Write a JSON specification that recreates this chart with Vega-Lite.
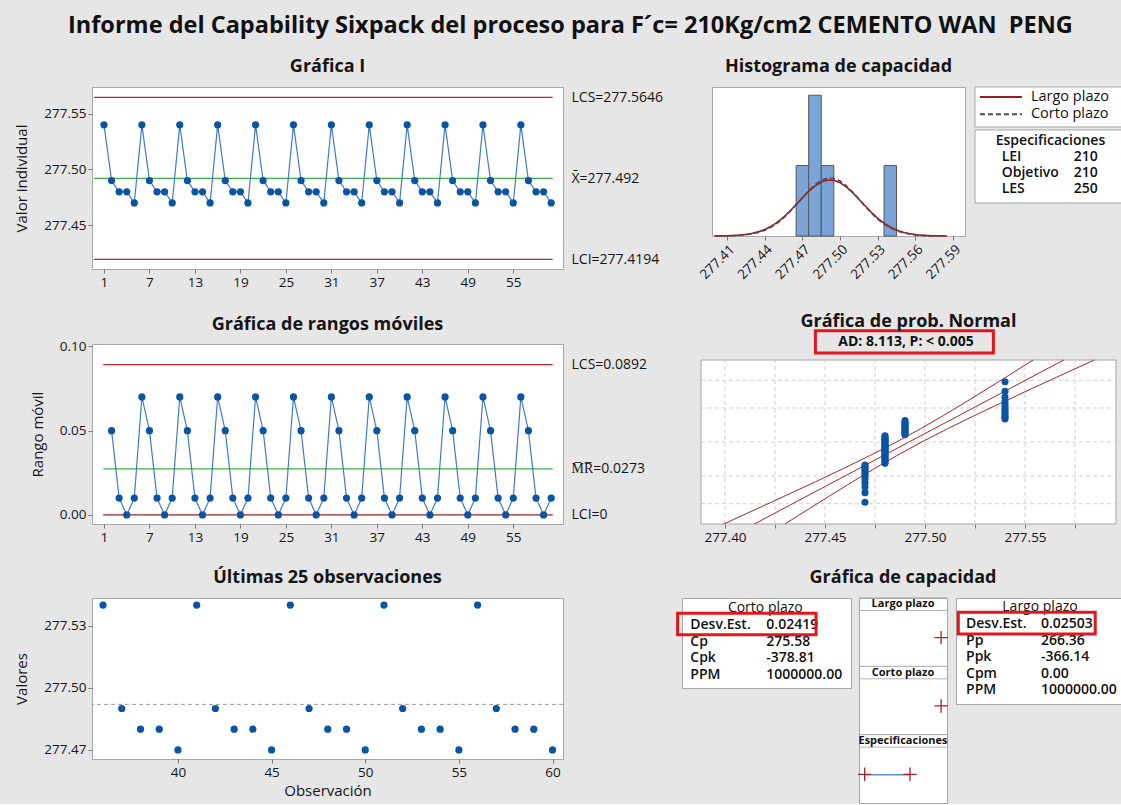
{
"$schema":"https://vega.github.io/schema/vega-lite/v6.json",
"background":"#e6e6e6",
"padding":{"left":14,"top":14,"right":0,"bottom":0},
"title":{"text":"Informe del Capability Sixpack del proceso para F´c= 210Kg/cm2 CEMENTO WAN\u00a0 PENG","fontSize":23.5,"fontWeight":"bold","offset":20,"anchor":"middle","color":"#111111"},
"columns":1,
"align":"none",
"bounds":"flush",
"spacing":0,
"resolve":{"scale":{"color":"independent","strokeDash":"independent"},"legend":{"color":"independent","strokeDash":"independent"}},
"concat":[
{"hconcat":[
{"width":471,"height":182,
 "title":{"text":"Gráfica I","offset":11},
 "view":{"fill":"white","stroke":"#a6a6a6"},
 "layer":[
  {"data":{"name":"ilim"},"mark":{"type":"rule","strokeWidth":1.3},
   "encoding":{
    "x":{"datum":-0.3,"type":"quantitative","scale":{"domain":[-0.58,61.56],"nice":false,"zero":false},"axis":{"values":[1,7,13,19,25,31,37,43,49,55],"format":"d","title":null}},
    "x2":{"datum":60.2},
    "y":{"field":"valor","type":"quantitative","scale":{"domain":[277.4108,277.5739],"nice":false,"zero":false},"axis":{"orient":"right","values":[277.4194,277.492,277.5646],"labelExpr":"datum.value > 277.55 ? 'LCS=277.5646' : (datum.value > 277.45 ? 'X\u0304=277.492' : 'LCI=277.4194')","title":null,"ticks":false,"labelPadding":8,"labelFontSize":14}},
    "color":{"field":"tipo","type":"nominal","scale":{"domain":["LCS","Media","LCI"],"range":["#b8292f","#3fae49","#b8292f"]},"legend":null}}},
  {"data":{"name":"indiv"},"mark":{"type":"line","color":"#3f7cc7","strokeWidth":1.2},
   "encoding":{"x":{"field":"obs","type":"quantitative"},"y":{"field":"valor","type":"quantitative","axis":{"values":[277.45,277.5,277.55],"format":".2f","title":"Valor individual","titlePadding":14}}}},
  {"data":{"name":"indiv"},"mark":{"type":"circle","color":"#0b53a3","size":52,"opacity":1},
   "encoding":{"x":{"field":"obs","type":"quantitative"},"y":{"field":"valor","type":"quantitative","axis":null}}}
 ],
 "resolve":{"axis":{"y":"independent"}}
},
{"width":149,"height":1,"data":{"values":[]},"mark":"point"},
{"width":253,"height":149,
 "title":{"text":"Histograma de capacidad","offset":11},
 "view":{"fill":"white","stroke":"#a6a6a6"},
 "layer":[
  {"data":{"name":"hist"},"mark":{"type":"rect","fill":"#7ba5d9","stroke":"#555555","strokeWidth":1},
   "encoding":{
    "x":{"field":"desde","type":"quantitative","scale":{"domain":[277.398,277.5995],"nice":false,"zero":false},"axis":{"values":[277.41,277.44,277.47,277.5,277.53,277.56,277.59],"format":".2f","labelAngle":-45,"title":null}},
    "x2":{"field":"hasta"},
    "y":{"field":"frecuencia","type":"quantitative","scale":{"domain":[0,25.4],"nice":false,"zero":false},"axis":null},
    "y2":{"datum":0}}},
  {"data":{"name":"curvas"},"mark":{"type":"line","strokeWidth":1.6},
   "encoding":{
    "x":{"field":"valor","type":"quantitative"},
    "y":{"field":"densidad","type":"quantitative"},
    "color":{"field":"curva","type":"nominal","scale":{"domain":["Largo plazo","Corto plazo"],"range":["#9e1b1b","#4d4d4d"]},"legend":null},
    "strokeDash":{"field":"curva","type":"nominal","scale":{"domain":["Largo plazo","Corto plazo"],"range":[[1,0],[5,3]]},"legend":null}}}
 ]
},
{"width":10,"height":1,"data":{"values":[]},"mark":"point"},
{"width":150,"height":116,
 "layer":[
  {"data":{"values":[{"zona":"leyenda"}]},"mark":{"type":"rect","fill":"white","stroke":"#a6a6a6","strokeWidth":1},
   "encoding":{"x":{"datum":0,"type":"quantitative","scale":{"domain":[0,100],"nice":false,"zero":false},"axis":null},"x2":{"datum":100},
    "y":{"datum":-3.334,"type":"quantitative","scale":{"domain":[-3.334,3.848],"reverse":true,"nice":false,"zero":false},"axis":null},"y2":{"datum":-0.857}}},
  {"data":{"values":[{"zona":"caja"}]},"mark":{"type":"rect","fill":"white","stroke":"#a6a6a6","strokeWidth":1},
   "encoding":{"x":{"datum":0},"x2":{"datum":100},"y":{"datum":-0.672},"y2":{"datum":3.848}}},
  {"data":{"name":"leyenda"},"mark":{"type":"rule","strokeWidth":2},
   "encoding":{"x":{"datum":3.3},"x2":{"datum":31.3},"y":{"field":"fila","type":"quantitative"},
    "color":{"field":"curva","type":"nominal","scale":{"domain":["Largo plazo","Corto plazo"],"range":["#9e1b1b","#4d4d4d"]},"legend":null},
    "strokeDash":{"field":"curva","type":"nominal","scale":{"domain":["Largo plazo","Corto plazo"],"range":[[1,0],[5,3]]},"legend":null}}},
  {"data":{"name":"leyenda"},"mark":{"type":"text","align":"left","baseline":"middle","fontSize":14.5,"color":"#111111"},
   "encoding":{"x":{"datum":37.3},"y":{"field":"fila","type":"quantitative"},"text":{"field":"curva"}}},
  {"data":{"name":"especificaciones"},"mark":{"type":"text","align":"left","baseline":"middle","fontSize":14,"fontWeight":600,"color":"#111111"},
   "encoding":{"x":{"datum":17.8},"y":{"field":"fila","type":"quantitative"},"text":{"field":"limite"}}},
  {"data":{"name":"especificaciones"},"mark":{"type":"text","align":"right","baseline":"middle","fontSize":14,"fontWeight":600,"color":"#111111"},
   "encoding":{"x":{"datum":81.8},"y":{"field":"fila","type":"quantitative"},"text":{"field":"valor"}}},
  {"data":{"values":[{"titulo":"Especificaciones"}]},"mark":{"type":"text","align":"center","baseline":"middle","fontSize":14,"fontWeight":600,"color":"#111111"},
   "encoding":{"x":{"datum":50.3},"y":{"datum":0},"text":{"field":"titulo"}}}
 ],
 "resolve":{"scale":{"color":"independent","strokeDash":"independent"}}
}
],"spacing":0,"bounds":"flush",
"resolve":{"scale":{"color":"independent","strokeDash":"independent"},"legend":{"color":"independent","strokeDash":"independent"}}},

{"width":1,"height":257,"data":{"values":[]},"mark":"point"},

{"hconcat":[
{"width":471,"height":180,
 "title":{"text":"Gráfica de rangos móviles","offset":5},
 "view":{"fill":"white","stroke":"#a6a6a6"},
 "layer":[
  {"data":{"name":"mrlim"},"mark":{"type":"rule","strokeWidth":1.3},
   "encoding":{
    "x":{"datum":0.9,"type":"quantitative","scale":{"domain":[-0.58,61.56],"nice":false,"zero":false},"axis":{"values":[1,7,13,19,25,31,37,43,49,55],"format":"d","title":null}},
    "x2":{"datum":60.2},
    "y":{"field":"valor","type":"quantitative","scale":{"domain":[-0.0054,0.1014],"nice":false,"zero":false},"axis":{"orient":"right","values":[0,0.0273,0.0892],"labelExpr":"datum.value > 0.05 ? 'LCS=0.0892' : (datum.value > 0.01 ? 'M\u0305R\u0305=0.0273' : 'LCI=0')","title":null,"ticks":false,"labelPadding":8,"labelFontSize":14}},
    "color":{"field":"tipo","type":"nominal","scale":{"domain":["LCS","Media","LCI"],"range":["#b8292f","#3fae49","#9e1f24"]},"legend":null}}},
  {"data":{"name":"mr"},"mark":{"type":"line","color":"#3f7cc7","strokeWidth":1.2},
   "encoding":{"x":{"field":"obs","type":"quantitative"},"y":{"field":"rango","type":"quantitative","axis":{"values":[0,0.05,0.1],"format":".2f","title":"Rango móvil","titlePadding":14}}}},
  {"data":{"name":"mr"},"mark":{"type":"circle","color":"#0b53a3","size":52,"opacity":1},
   "encoding":{"x":{"field":"obs","type":"quantitative"},"y":{"field":"rango","type":"quantitative","axis":null}}}
 ],
 "resolve":{"axis":{"y":"independent"}}
},
{"width":138,"height":1,"data":{"values":[]},"mark":"point"},
{"width":415,"height":180,
 "title":{"text":"Gráfica de prob. Normal","offset":-2},
 "layer":[
  {"data":{"values":[{"zona":"grafica"}]},"mark":{"type":"rect","fill":"white","stroke":"#a6a6a6","strokeWidth":1},
   "encoding":{
    "x":{"datum":277.388,"type":"quantitative","scale":{"domain":[277.388,277.5955],"nice":false,"zero":false},"axis":{"values":[277.4,277.425,277.45,277.475,277.5,277.525,277.55,277.575],"labelExpr":"abs(datum.value*20 - round(datum.value*20)) < 0.01 ? format(datum.value, '.2f') : ''","title":null}},
    "x2":{"datum":277.5955},
    "y":{"datum":-3.09,"type":"quantitative","scale":{"domain":[-3.09,3.693],"nice":false,"zero":false},"axis":null},
    "y2":{"datum":3.09}}},
  {"data":{"name":"pn_grid_x"},"mark":{"type":"rule","color":"#d0d0d0","strokeDash":[4,3],"strokeWidth":1},
   "encoding":{"x":{"field":"x","type":"quantitative"},"y":{"datum":-3.09},"y2":{"datum":3.09}}},
  {"data":{"name":"pn_grid_z"},"mark":{"type":"rule","color":"#d0d0d0","strokeDash":[4,3],"strokeWidth":1},
   "encoding":{"y":{"field":"z","type":"quantitative"},"x":{"datum":277.388},"x2":{"datum":277.5955}}},
  {"data":{"name":"pn_lineas"},"mark":{"type":"line","color":"#a8262c","strokeWidth":1},
   "encoding":{
    "x":{"field":"x","type":"quantitative"},
    "y":{"field":"z","type":"quantitative"},
    "detail":{"field":"serie","type":"nominal"},
    "order":{"field":"z","type":"quantitative"}}},
  {"data":{"name":"pn"},"mark":{"type":"circle","color":"#0b53a3","size":50,"opacity":1},
   "encoding":{"x":{"field":"valor","type":"quantitative"},"y":{"field":"z","type":"quantitative"}}},
  {"data":{"values":[{"prueba":"AD: 8.113, P: < 0.005"}]},"mark":{"type":"rect","fillOpacity":0,"stroke":"#e4161d","strokeWidth":3},
   "encoding":{"x":{"datum":277.4452},"x2":{"datum":277.5342},"y":{"datum":3.356},"y2":{"datum":4.196}}},
  {"data":{"values":[{"prueba":"AD: 8.113, P: < 0.005"}]},"mark":{"type":"text","fontSize":14,"fontWeight":"bold","color":"#111111","baseline":"middle"},
   "encoding":{"x":{"datum":277.4905},"y":{"datum":3.768},"text":{"field":"prueba"}}}
 ]
}
],"spacing":0,"bounds":"flush",
"resolve":{"scale":{"color":"independent","strokeDash":"independent"},"legend":{"color":"independent","strokeDash":"independent"}}},

{"width":1,"height":254,"data":{"values":[]},"mark":"point"},

{"hconcat":[
{"width":471,"height":161,
 "title":{"text":"Últimas 25 observaciones","offset":11},
 "view":{"fill":"white","stroke":"#a6a6a6"},
 "layer":[
  {"data":{"name":"indiv"},"transform":[{"filter":"datum.obs >= 36"}],"mark":{"type":"circle","color":"#0b53a3","size":52,"opacity":1},
   "encoding":{
    "x":{"field":"obs","type":"quantitative","scale":{"domain":[35.41,60.56],"nice":false,"zero":false},"axis":{"values":[40,45,50,55,60],"format":"d","title":"Observación","titlePadding":5}},
    "y":{"field":"valor","type":"quantitative","scale":{"domain":[277.4656,277.5434],"nice":false,"zero":false},"axis":{"values":[277.47,277.5,277.53],"format":".2f","title":"Valores","titlePadding":14}}}},
  {"data":{"values":[{"media":277.492}]},"mark":{"type":"rule","color":"#9a9a9a","strokeDash":[4,3],"strokeWidth":1},
   "encoding":{"y":{"field":"media","type":"quantitative"}}}
 ]
},
{"width":119,"height":1,"data":{"values":[]},"mark":"point"},
{"width":169,"height":90,
 "view":{"fill":"white","stroke":"#a6a6a6"},
 "layer":[
  {"data":{"name":"corto"},"mark":{"type":"text","align":"left","baseline":"middle","fontSize":14,"fontWeight":600,"color":"#111111"},
   "encoding":{"x":{"datum":4.9,"type":"quantitative","scale":{"domain":[0,100],"nice":false,"zero":false},"axis":null},
    "y":{"field":"fila","type":"quantitative","scale":{"domain":[-0.62,4.78],"reverse":true,"nice":false,"zero":false},"axis":null},
    "text":{"field":"estadistico"}}},
  {"data":{"name":"corto"},"mark":{"type":"text","align":"left","baseline":"middle","fontSize":14,"fontWeight":600,"color":"#111111"},
   "encoding":{"x":{"datum":49.9},"y":{"field":"fila","type":"quantitative"},"text":{"field":"valor"}}},
  {"data":{"values":[{"titulo":"Corto plazo"}]},"mark":{"type":"text","align":"center","baseline":"middle","fontSize":14,"color":"#111111"},
   "encoding":{"x":{"datum":49.3},"y":{"datum":0},"text":{"field":"titulo"}}},
  {"data":{"values":[{"marca":"Desv.Est."}]},"mark":{"type":"rect","fillOpacity":0,"stroke":"#e4161d","strokeWidth":3},
   "encoding":{"x":{"datum":-2.6},"x2":{"datum":79.3},"y":{"datum":0.3},"y2":{"datum":1.58}}}
 ]
},
{"width":8,"height":1,"data":{"values":[]},"mark":"point"},
{"width":88,"height":205,
 "title":{"text":"Gráfica de capacidad","offset":11},
 "view":{"fill":"white","stroke":"#a6a6a6"},
 "layer":[
  {"data":{"name":"paneles"},"mark":{"type":"rule","color":"#b3b3b3","strokeWidth":1},
   "encoding":{"y":{"field":"panel","type":"nominal","bandPosition":0.183,"scale":{"type":"band","domain":["Largo plazo","Corto plazo","Especificaciones"],"paddingInner":0,"paddingOuter":0},"axis":null}}},
  {"data":{"name":"paneles"},"mark":{"type":"rule","color":"#a6a6a6","strokeWidth":1},
   "encoding":{"y":{"field":"panel","type":"nominal","bandPosition":0}}},
  {"data":{"name":"paneles"},"mark":{"type":"text","fontSize":11,"fontWeight":"bold","color":"#111111","baseline":"middle"},
   "encoding":{"y":{"field":"panel","type":"nominal","bandPosition":0.092},"text":{"field":"panel"}}},
  {"data":{"name":"spec_linea"},"mark":{"type":"rule","color":"#5a8fd2","strokeWidth":1.5},
   "encoding":{"x":{"field":"desde","type":"quantitative","scale":{"domain":[205,282.7],"nice":false,"zero":false},"axis":null},"x2":{"field":"hasta"},"y":{"field":"panel","type":"nominal","bandPosition":0.587}}},
  {"data":{"name":"cruces"},"mark":{"type":"point","shape":"M-1,0H1M0,-1V1","filled":false,"stroke":"#a5232a","strokeWidth":1.3,"size":180,"opacity":1},
   "encoding":{"x":{"field":"valor","type":"quantitative"},"y":{"field":"panel","type":"nominal","bandPosition":0.58}}}
 ]
},
{"width":9,"height":1,"data":{"values":[]},"mark":"point"},
{"width":170,"height":106,
 "view":{"fill":"white","stroke":"#a6a6a6"},
 "layer":[
  {"data":{"name":"largo"},"mark":{"type":"text","align":"left","baseline":"middle","fontSize":14,"fontWeight":600,"color":"#111111"},
   "encoding":{"x":{"datum":5.9,"type":"quantitative","scale":{"domain":[0,100],"nice":false,"zero":false},"axis":null},
    "y":{"field":"fila","type":"quantitative","scale":{"domain":[-0.566,5.82],"reverse":true,"nice":false,"zero":false},"axis":null},
    "text":{"field":"estadistico"}}},
  {"data":{"name":"largo"},"mark":{"type":"text","align":"left","baseline":"middle","fontSize":14,"fontWeight":600,"color":"#111111"},
   "encoding":{"x":{"datum":50},"y":{"field":"fila","type":"quantitative"},"text":{"field":"valor"}}},
  {"data":{"values":[{"titulo":"Largo plazo"}]},"mark":{"type":"text","align":"center","baseline":"middle","fontSize":14,"color":"#111111"},
   "encoding":{"x":{"datum":49.4},"y":{"datum":0},"text":{"field":"titulo"}}},
  {"data":{"values":[{"marca":"Desv.Est."}]},"mark":{"type":"rect","fillOpacity":0,"stroke":"#e4161d","strokeWidth":3},
   "encoding":{"x":{"datum":1.35},"x2":{"datum":81.9},"y":{"datum":0.3},"y2":{"datum":1.6}}}
 ]
}
],"spacing":0,"bounds":"flush",
"resolve":{"scale":{"color":"independent","strokeDash":"independent"},"legend":{"color":"independent","strokeDash":"independent"}}}
],
"datasets":{
"indiv":[{"obs":1,"valor":277.54},{"obs":2,"valor":277.49},{"obs":3,"valor":277.48},{"obs":4,"valor":277.48},{"obs":5,"valor":277.47},
{"obs":6,"valor":277.54},{"obs":7,"valor":277.49},{"obs":8,"valor":277.48},{"obs":9,"valor":277.48},{"obs":10,"valor":277.47},
{"obs":11,"valor":277.54},{"obs":12,"valor":277.49},{"obs":13,"valor":277.48},{"obs":14,"valor":277.48},{"obs":15,"valor":277.47},
{"obs":16,"valor":277.54},{"obs":17,"valor":277.49},{"obs":18,"valor":277.48},{"obs":19,"valor":277.48},{"obs":20,"valor":277.47},
{"obs":21,"valor":277.54},{"obs":22,"valor":277.49},{"obs":23,"valor":277.48},{"obs":24,"valor":277.48},{"obs":25,"valor":277.47},
{"obs":26,"valor":277.54},{"obs":27,"valor":277.49},{"obs":28,"valor":277.48},{"obs":29,"valor":277.48},{"obs":30,"valor":277.47},
{"obs":31,"valor":277.54},{"obs":32,"valor":277.49},{"obs":33,"valor":277.48},{"obs":34,"valor":277.48},{"obs":35,"valor":277.47},
{"obs":36,"valor":277.54},{"obs":37,"valor":277.49},{"obs":38,"valor":277.48},{"obs":39,"valor":277.48},{"obs":40,"valor":277.47},
{"obs":41,"valor":277.54},{"obs":42,"valor":277.49},{"obs":43,"valor":277.48},{"obs":44,"valor":277.48},{"obs":45,"valor":277.47},
{"obs":46,"valor":277.54},{"obs":47,"valor":277.49},{"obs":48,"valor":277.48},{"obs":49,"valor":277.48},{"obs":50,"valor":277.47},
{"obs":51,"valor":277.54},{"obs":52,"valor":277.49},{"obs":53,"valor":277.48},{"obs":54,"valor":277.48},{"obs":55,"valor":277.47},
{"obs":56,"valor":277.54},{"obs":57,"valor":277.49},{"obs":58,"valor":277.48},{"obs":59,"valor":277.48},{"obs":60,"valor":277.47}],
"mr":[{"obs":2,"rango":0.05},{"obs":3,"rango":0.01},{"obs":4,"rango":0},{"obs":5,"rango":0.01},
{"obs":6,"rango":0.07},{"obs":7,"rango":0.05},{"obs":8,"rango":0.01},{"obs":9,"rango":0},{"obs":10,"rango":0.01},
{"obs":11,"rango":0.07},{"obs":12,"rango":0.05},{"obs":13,"rango":0.01},{"obs":14,"rango":0},{"obs":15,"rango":0.01},
{"obs":16,"rango":0.07},{"obs":17,"rango":0.05},{"obs":18,"rango":0.01},{"obs":19,"rango":0},{"obs":20,"rango":0.01},
{"obs":21,"rango":0.07},{"obs":22,"rango":0.05},{"obs":23,"rango":0.01},{"obs":24,"rango":0},{"obs":25,"rango":0.01},
{"obs":26,"rango":0.07},{"obs":27,"rango":0.05},{"obs":28,"rango":0.01},{"obs":29,"rango":0},{"obs":30,"rango":0.01},
{"obs":31,"rango":0.07},{"obs":32,"rango":0.05},{"obs":33,"rango":0.01},{"obs":34,"rango":0},{"obs":35,"rango":0.01},
{"obs":36,"rango":0.07},{"obs":37,"rango":0.05},{"obs":38,"rango":0.01},{"obs":39,"rango":0},{"obs":40,"rango":0.01},
{"obs":41,"rango":0.07},{"obs":42,"rango":0.05},{"obs":43,"rango":0.01},{"obs":44,"rango":0},{"obs":45,"rango":0.01},
{"obs":46,"rango":0.07},{"obs":47,"rango":0.05},{"obs":48,"rango":0.01},{"obs":49,"rango":0},{"obs":50,"rango":0.01},
{"obs":51,"rango":0.07},{"obs":52,"rango":0.05},{"obs":53,"rango":0.01},{"obs":54,"rango":0},{"obs":55,"rango":0.01},
{"obs":56,"rango":0.07},{"obs":57,"rango":0.05},{"obs":58,"rango":0.01},{"obs":59,"rango":0},{"obs":60,"rango":0.01}],
"ilim":[{"tipo":"LCS","valor":277.5646},{"tipo":"Media","valor":277.492},{"tipo":"LCI","valor":277.4194}],
"mrlim":[{"tipo":"LCS","valor":0.0892},{"tipo":"Media","valor":0.0273},{"tipo":"LCI","valor":0}],
"hist":[{"desde":277.465,"hasta":277.475,"frecuencia":12},{"desde":277.475,"hasta":277.485,"frecuencia":24},{"desde":277.485,"hasta":277.495,"frecuencia":12},{"desde":277.535,"hasta":277.545,"frecuencia":12}],
"curvas":[
{"curva":"Largo plazo","valor":277.400,"densidad":0.0111},{"curva":"Largo plazo","valor":277.405,"densidad":0.0228},{"curva":"Largo plazo","valor":277.410,"densidad":0.0447},{"curva":"Largo plazo","valor":277.415,"densidad":0.0842},{"curva":"Largo plazo","valor":277.420,"densidad":0.1527},{"curva":"Largo plazo","valor":277.425,"densidad":0.2659},{"curva":"Largo plazo","valor":277.430,"densidad":0.4449},{"curva":"Largo plazo","valor":277.435,"densidad":0.7153},{"curva":"Largo plazo","valor":277.440,"densidad":1.1055},{"curva":"Largo plazo","valor":277.445,"densidad":1.640},{"curva":"Largo plazo","valor":277.450,"densidad":2.340},{"curva":"Largo plazo","valor":277.455,"densidad":3.207},{"curva":"Largo plazo","valor":277.460,"densidad":4.224},{"curva":"Largo plazo","valor":277.465,"densidad":5.345},{"curva":"Largo plazo","valor":277.470,"densidad":6.499},{"curva":"Largo plazo","valor":277.475,"densidad":7.594},{"curva":"Largo plazo","valor":277.480,"densidad":8.525},{"curva":"Largo plazo","valor":277.485,"densidad":9.196},{"curva":"Largo plazo","valor":277.490,"densidad":9.532},{"curva":"Largo plazo","valor":277.495,"densidad":9.495},{"curva":"Largo plazo","valor":277.500,"densidad":9.087},{"curva":"Largo plazo","valor":277.505,"densidad":8.356},{"curva":"Largo plazo","valor":277.510,"densidad":7.385},{"curva":"Largo plazo","valor":277.515,"densidad":6.270},{"curva":"Largo plazo","valor":277.520,"densidad":5.115},{"curva":"Largo plazo","valor":277.525,"densidad":4.010},{"curva":"Largo plazo","valor":277.530,"densidad":3.021},{"curva":"Largo plazo","valor":277.535,"densidad":2.186},{"curva":"Largo plazo","valor":277.540,"densidad":1.520},{"curva":"Largo plazo","valor":277.545,"densidad":1.017},{"curva":"Largo plazo","valor":277.550,"densidad":0.653},{"curva":"Largo plazo","valor":277.555,"densidad":0.403},{"curva":"Largo plazo","valor":277.560,"densidad":0.239},{"curva":"Largo plazo","valor":277.565,"densidad":0.136},{"curva":"Largo plazo","valor":277.570,"densidad":0.0745},{"curva":"Largo plazo","valor":277.575,"densidad":0.0392},{"curva":"Largo plazo","valor":277.580,"densidad":0.0198},{"curva":"Largo plazo","valor":277.585,"densidad":0.0096},
{"curva":"Corto plazo","valor":277.400,"densidad":0.0072},{"curva":"Corto plazo","valor":277.405,"densidad":0.0154},{"curva":"Corto plazo","valor":277.410,"densidad":0.0316},{"curva":"Corto plazo","valor":277.415,"densidad":0.0624},{"curva":"Corto plazo","valor":277.420,"densidad":0.1179},{"curva":"Corto plazo","valor":277.425,"densidad":0.2136},{"curva":"Corto plazo","valor":277.430,"densidad":0.3706},{"curva":"Corto plazo","valor":277.435,"densidad":0.6164},{"curva":"Corto plazo","valor":277.440,"densidad":0.9817},{"curva":"Corto plazo","valor":277.445,"densidad":1.498},{"curva":"Corto plazo","valor":277.450,"densidad":2.192},{"curva":"Corto plazo","valor":277.455,"densidad":3.071},{"curva":"Corto plazo","valor":277.460,"densidad":4.125},{"curva":"Corto plazo","valor":277.465,"densidad":5.308},{"curva":"Corto plazo","valor":277.470,"densidad":6.544},{"curva":"Corto plazo","valor":277.475,"densidad":7.730},{"curva":"Corto plazo","valor":277.480,"densidad":8.750},{"curva":"Corto plazo","valor":277.485,"densidad":9.489},{"curva":"Corto plazo","valor":277.490,"densidad":9.861},{"curva":"Corto plazo","valor":277.495,"densidad":9.819},{"curva":"Corto plazo","valor":277.500,"densidad":9.369},{"curva":"Corto plazo","valor":277.505,"densidad":8.564},{"curva":"Corto plazo","valor":277.510,"densidad":7.502},{"curva":"Corto plazo","valor":277.515,"densidad":6.297},{"curva":"Corto plazo","valor":277.520,"densidad":5.064},{"curva":"Corto plazo","valor":277.525,"densidad":3.903},{"curva":"Corto plazo","valor":277.530,"densidad":2.881},{"curva":"Corto plazo","valor":277.535,"densidad":2.038},{"curva":"Corto plazo","valor":277.540,"densidad":1.381},{"curva":"Corto plazo","valor":277.545,"densidad":0.898},{"curva":"Corto plazo","valor":277.550,"densidad":0.559},{"curva":"Corto plazo","valor":277.555,"densidad":0.333},{"curva":"Corto plazo","valor":277.560,"densidad":0.190},{"curva":"Corto plazo","valor":277.565,"densidad":0.104},{"curva":"Corto plazo","valor":277.570,"densidad":0.0547},{"curva":"Corto plazo","valor":277.575,"densidad":0.0275},{"curva":"Corto plazo","valor":277.580,"densidad":0.0132},{"curva":"Corto plazo","valor":277.585,"densidad":0.0061}],
"leyenda":[{"curva":"Largo plazo","fila":-2.715},{"curva":"Corto plazo","fila":-1.644}],
"pn":[{"valor":277.47,"z":-2.270},{"valor":277.47,"z":-1.909},{"valor":277.47,"z":-1.699},{"valor":277.47,"z":-1.544},{"valor":277.47,"z":-1.420},{"valor":277.47,"z":-1.314},{"valor":277.47,"z":-1.222},{"valor":277.47,"z":-1.139},{"valor":277.47,"z":-1.062},{"valor":277.47,"z":-0.992},{"valor":277.47,"z":-0.926},{"valor":277.47,"z":-0.865},
{"valor":277.48,"z":-0.805},{"valor":277.48,"z":-0.749},{"valor":277.48,"z":-0.695},{"valor":277.48,"z":-0.644},{"valor":277.48,"z":-0.593},{"valor":277.48,"z":-0.545},{"valor":277.48,"z":-0.497},{"valor":277.48,"z":-0.451},{"valor":277.48,"z":-0.405},{"valor":277.48,"z":-0.361},{"valor":277.48,"z":-0.317},{"valor":277.48,"z":-0.274},{"valor":277.48,"z":-0.231},{"valor":277.48,"z":-0.188},{"valor":277.48,"z":-0.146},{"valor":277.48,"z":-0.104},{"valor":277.48,"z":-0.062},{"valor":277.48,"z":-0.021},{"valor":277.48,"z":0.021},{"valor":277.48,"z":0.062},{"valor":277.48,"z":0.104},{"valor":277.48,"z":0.146},{"valor":277.48,"z":0.188},{"valor":277.48,"z":0.231},
{"valor":277.49,"z":0.274},{"valor":277.49,"z":0.317},{"valor":277.49,"z":0.361},{"valor":277.49,"z":0.405},{"valor":277.49,"z":0.451},{"valor":277.49,"z":0.497},{"valor":277.49,"z":0.545},{"valor":277.49,"z":0.593},{"valor":277.49,"z":0.644},{"valor":277.49,"z":0.695},{"valor":277.49,"z":0.749},{"valor":277.49,"z":0.805},
{"valor":277.54,"z":0.865},{"valor":277.54,"z":0.926},{"valor":277.54,"z":0.992},{"valor":277.54,"z":1.062},{"valor":277.54,"z":1.139},{"valor":277.54,"z":1.222},{"valor":277.54,"z":1.314},{"valor":277.54,"z":1.420},{"valor":277.54,"z":1.544},{"valor":277.54,"z":1.699},{"valor":277.54,"z":1.909},{"valor":277.54,"z":2.270}],
"pn_lineas":[{"serie":"Ajuste","z":-3.09,"x":277.41466},{"serie":"Ajuste","z":3.09,"x":277.56934},
{"serie":"IC inferior","z":-3.09,"x":277.39933},{"serie":"IC inferior","z":-2.5,"x":277.41648},{"serie":"IC inferior","z":-2,"x":277.43091},{"serie":"IC inferior","z":-1.5,"x":277.44519},{"serie":"IC inferior","z":-1,"x":277.45919},{"serie":"IC inferior","z":-0.5,"x":277.47277},{"serie":"IC inferior","z":0,"x":277.48567},{"serie":"IC inferior","z":0.5,"x":277.4978},{"serie":"IC inferior","z":1,"x":277.50925},{"serie":"IC inferior","z":1.5,"x":277.52028},{"serie":"IC inferior","z":2,"x":277.53103},{"serie":"IC inferior","z":2.5,"x":277.54163},{"serie":"IC inferior","z":3.09,"x":277.55401},
{"serie":"IC superior","z":-3.09,"x":277.42999},{"serie":"IC superior","z":-2.5,"x":277.44238},{"serie":"IC superior","z":-2,"x":277.45297},{"serie":"IC superior","z":-1.5,"x":277.46373},{"serie":"IC superior","z":-1,"x":277.47475},{"serie":"IC superior","z":-0.5,"x":277.48621},{"serie":"IC superior","z":0,"x":277.49833},{"serie":"IC superior","z":0.5,"x":277.51124},{"serie":"IC superior","z":1,"x":277.52481},{"serie":"IC superior","z":1.5,"x":277.53882},{"serie":"IC superior","z":2,"x":277.55309},{"serie":"IC superior","z":2.5,"x":277.56753},{"serie":"IC superior","z":3.09,"x":277.58467}],
"pn_grid_x":[{"x":277.4},{"x":277.425},{"x":277.45},{"x":277.475},{"x":277.5},{"x":277.525},{"x":277.55},{"x":277.575}],
"pn_grid_z":[{"z":-2.326},{"z":-1.2816},{"z":0},{"z":1.2816},{"z":2.326}],
"paneles":[{"panel":"Largo plazo"},{"panel":"Corto plazo"},{"panel":"Especificaciones"}],
"cruces":[{"panel":"Largo plazo","valor":277.492},{"panel":"Corto plazo","valor":277.492},{"panel":"Especificaciones","valor":210},{"panel":"Especificaciones","valor":250}],
"spec_linea":[{"panel":"Especificaciones","desde":210,"hasta":250}],
"corto":[{"fila":1,"estadistico":"Desv.Est.","valor":"0.02419"},{"fila":2,"estadistico":"Cp","valor":"275.58"},{"fila":3,"estadistico":"Cpk","valor":"-378.81"},{"fila":4,"estadistico":"PPM","valor":"1000000.00"}],
"largo":[{"fila":1,"estadistico":"Desv.Est.","valor":"0.02503"},{"fila":2,"estadistico":"Pp","valor":"266.36"},{"fila":3,"estadistico":"Ppk","valor":"-366.14"},{"fila":4,"estadistico":"Cpm","valor":"0.00"},{"fila":5,"estadistico":"PPM","valor":"1000000.00"}],
"especificaciones":[{"fila":1,"limite":"LEI","valor":"210"},{"fila":2,"limite":"Objetivo","valor":"210"},{"fila":3,"limite":"LES","valor":"250"}]
},
"config":{
 "font":"Open Sans",
 "view":{"stroke":null},
 "title":{"font":"Open Sans","fontSize":18,"fontWeight":"bold","color":"#151515","anchor":"middle"},
 "axis":{"labelFont":"Open Sans","labelFontSize":13.5,"labelColor":"#151515","titleFont":"Open Sans","titleFontSize":15,"titleFontWeight":"normal","titleColor":"#151515","tickColor":"#7a7a7a","tickSize":4,"labelPadding":2,"domain":false,"grid":false,"labelFlush":false,"labelOverlap":false},
 "text":{"font":"Open Sans"},
 "legend":{"labelFont":"Open Sans"}
}
}
